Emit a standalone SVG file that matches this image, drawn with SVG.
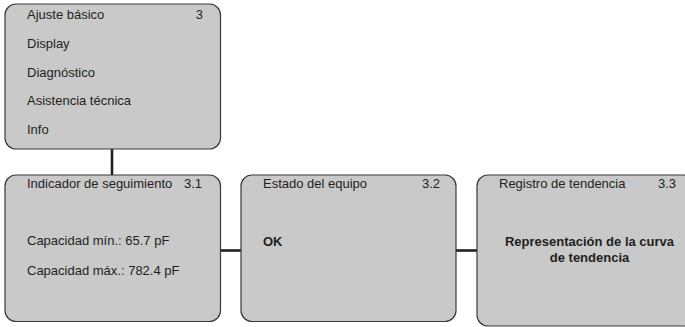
<svg xmlns="http://www.w3.org/2000/svg" width="685" height="327" viewBox="0 0 685 327">
<style>
.box{fill:#c9c9ca;stroke:#3a3a3a;stroke-width:1.2}
.t{font-family:"Liberation Sans",Arial,sans-serif;font-size:13px;fill:#231f20}
.b{font-family:"Liberation Sans",Arial,sans-serif;font-size:13px;font-weight:bold;fill:#231f20}
.c{stroke:#231f20;stroke-width:2.6;fill:none}
</style>
<rect width="685" height="327" fill="#ffffff"/>
<g id="connectors">
<line class="c" x1="112" y1="149" x2="112" y2="175"/>
<line class="c" x1="221" y1="250.5" x2="241" y2="250.5"/>
<line class="c" x1="456" y1="250.5" x2="477" y2="250.5"/>
</g>
<g id="menu">
<rect class="box" x="5" y="4" width="215.5" height="145" rx="11"/>
<text class="t" x="27" y="18.5">Ajuste básico</text>
<text class="t" x="203" y="18.5" text-anchor="end">3</text>
<text class="t" x="27" y="47.5">Display</text>
<text class="t" x="27" y="76.5">Diagnóstico</text>
<text class="t" x="27" y="105">Asistencia técnica</text>
<text class="t" x="27" y="134">Info</text>
</g>
<g id="n31">
<rect class="box" x="5" y="175" width="215.5" height="146.5" rx="11"/>
<text class="t" x="27" y="187.5">Indicador de seguimiento</text>
<text class="t" x="202" y="187.5" text-anchor="end">3.1</text>
<text class="t" x="27" y="244.5">Capacidad mín.: 65.7 pF</text>
<text class="t" x="27" y="274.5">Capacidad máx.: 782.4 pF</text>
</g>
<g id="n32">
<rect class="box" x="241" y="175" width="215" height="146.5" rx="11"/>
<text class="t" x="263" y="187.5">Estado del equipo</text>
<text class="t" x="440" y="187.5" text-anchor="end">3.2</text>
<text class="b" x="263" y="246">OK</text>
</g>
<g id="n33">
<rect class="box" x="477" y="175" width="217" height="151" rx="11"/>
<text class="t" x="499" y="187.5">Registro de tendencia</text>
<text class="t" x="676" y="187.5" text-anchor="end">3.3</text>
<text class="b" x="589.5" y="246" text-anchor="middle">Representación de la curva</text>
<text class="b" x="589.5" y="262" text-anchor="middle">de tendencia</text>
</g>
</svg>
